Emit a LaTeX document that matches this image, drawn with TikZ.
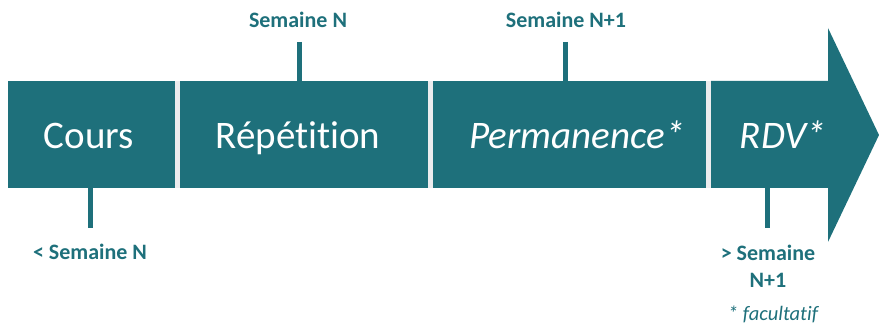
\documentclass[tikz,border=0pt]{standalone}
\usepackage{fontspec}
\setmainfont{Carlito}[Ligatures={NoCommon}]
\definecolor{teal}{RGB}{30,112,123}
\definecolor{gap}{RGB}{236,236,238}
\begin{document}
\begin{tikzpicture}[x=1pt,y=-1pt,
  phase/.style={fill=teal, draw=none},
  phasetext/.style={text=white, anchor=base, inner sep=0pt, font=\fontsize{39}{41}\selectfont},
  tick/.style={draw=teal, line width=5pt},
  week/.style={text=teal, anchor=base, font=\bfseries\fontsize{22}{27}\selectfont, align=center, inner sep=0pt}]
\useasboundingbox (0,0) rectangle (879,328);
% light separators behind the bar
\fill[gap] (170,81) rectangle (716,188);
% the four phases, the last one ending in an arrow head
\fill[phase] (8,81) rectangle (175,188);
\fill[phase] (180,81) rectangle (428,188);
\fill[phase] (433,81) rectangle (706,188);
\fill[phase] (711,81) -- (828,81) -- (828,28) -- (879,135) -- (828,242) -- (828,188) -- (711,188) -- cycle;
\node[phasetext] (cours) at (89,149) {Cours};
\node[phasetext] (rep) at (298,149) {Répétition};
\node[phasetext, font=\itshape\fontsize{39}{41}\selectfont] (perm) at (577,149) {Permanence*};
\node[phasetext, font=\itshape\fontsize{39}{41}\selectfont] (rdv) at (783,149) {RDV*};
% week markers
\coordinate (t1a) at (299,42); \coordinate (t1b) at (299,81);
\coordinate (t2a) at (565,42); \coordinate (t2b) at (565,81);
\coordinate (t3a) at (90,188); \coordinate (t3b) at (90,228);
\coordinate (t4a) at (767,188); \coordinate (t4b) at (767,228);
\draw[tick] (t1a) -- (t1b);
\draw[tick] (t2a) -- (t2b);
\draw[tick] (t3a) -- (t3b);
\draw[tick] (t4a) -- (t4b);
\node[week] (wn) at (298,28) {Semaine N};
\node[week] (wn1) at (566,28) {Semaine N+1};
\node[week] (before) at (90,260) {< Semaine N};
\node[week] (after) at (768,261) {> Semaine};
\node[week] (after2) at (768,288) {N+1};
\node[text=teal, anchor=base, font=\itshape\fontsize{20.5}{24}\selectfont, inner sep=0pt] (note) at (773,321) {* facultatif};
\end{tikzpicture}
\end{document}
